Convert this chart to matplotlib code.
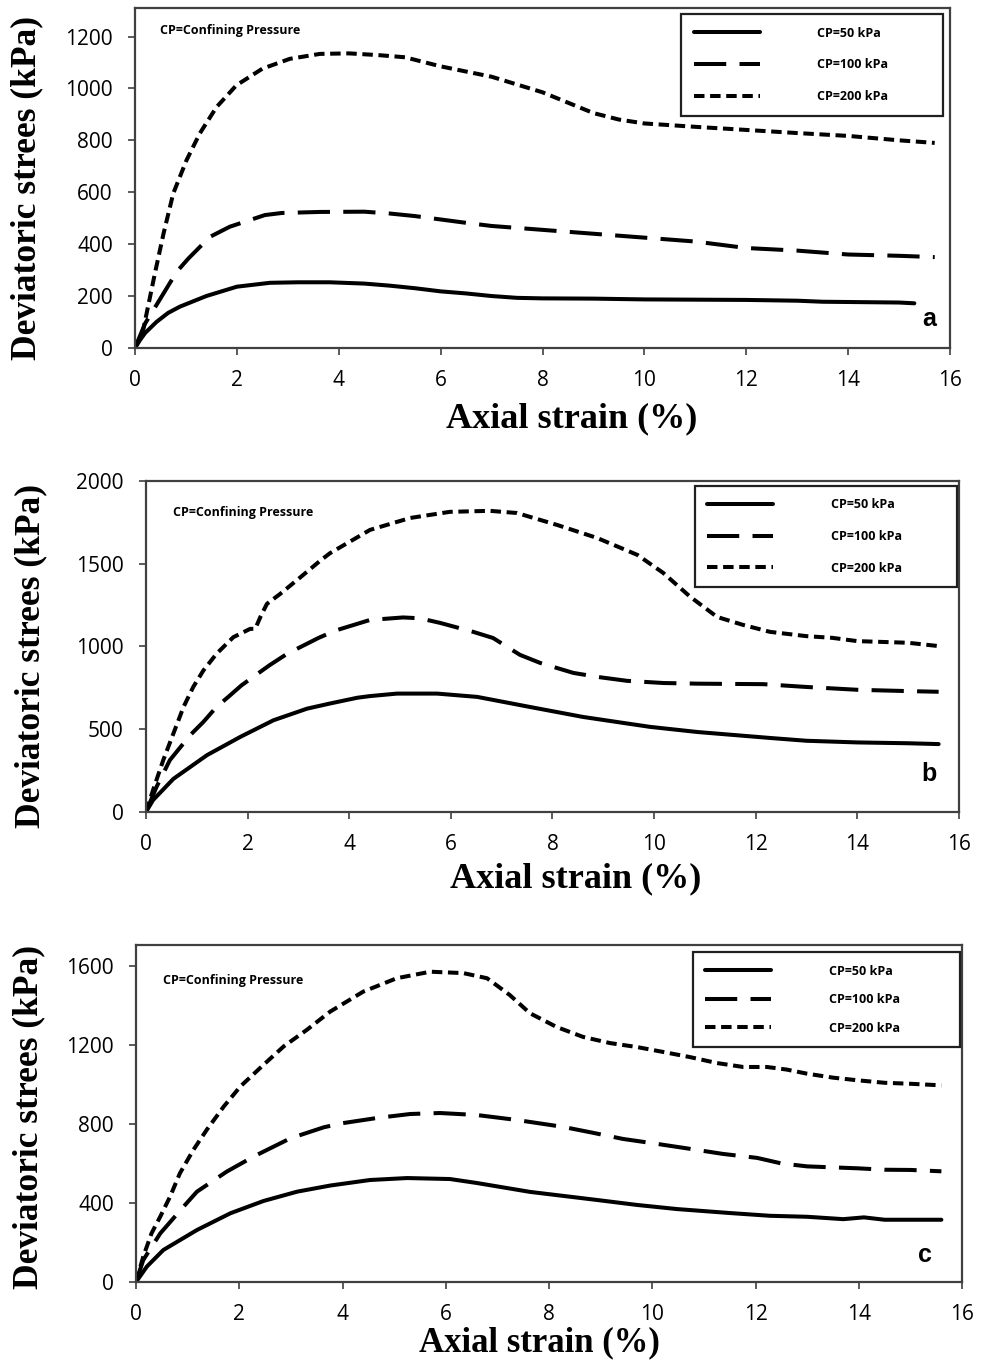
import numpy as np
import matplotlib
matplotlib.use("Agg")
import matplotlib.pyplot as plt

# ----------------------------------------------------------------------
# Data (axial strain %, deviatoric stress kPa)
# ----------------------------------------------------------------------

# panel a
a50_x = [0, 0.1, 0.2, 0.42, 0.65, 0.88, 1.4, 2.0, 2.65, 3.2, 3.82, 4.5, 5, 5.5, 6, 6.5, 7, 7.5, 8, 9, 10, 11, 12, 13, 13.5, 14, 15, 15.3]
a50_y = [0, 31, 58, 100, 135, 159, 200, 236, 251, 253, 253, 248, 240, 230, 218, 210, 200, 193, 191, 190, 187, 186, 185, 182, 178, 177, 175, 172]

a100_x = [0, 0.2, 0.46, 0.82, 1.05, 1.47, 1.86, 2.55, 2.88, 3.63, 4.5, 5, 5.5, 6, 6.5, 7, 8, 9, 10, 11, 12, 13, 14, 15, 15.7]
a100_y = [0, 95, 178, 294, 345, 428, 467, 512, 520, 524, 525, 518, 508, 495, 482, 470, 455, 440, 425, 410, 385, 375, 360, 355, 350]

a200_x = [0, 0.16, 0.39, 0.56, 0.75, 1.01, 1.27, 1.6, 1.99, 2.5, 3.04, 3.63, 4.2, 4.8, 5.3, 6, 6.5, 7, 7.5, 8, 8.5, 9, 9.5, 10, 11, 12, 13, 14, 15, 15.7]
a200_y = [0, 69, 287, 441, 595, 723, 826, 928, 1012, 1076, 1114, 1133, 1135, 1128, 1120, 1085, 1065, 1045, 1015, 985, 945, 905, 880, 865, 852, 840, 828, 817, 800, 790]

# panel b
b50_x = [0, 0.14, 0.54, 1.2, 1.86, 2.51, 3.17, 3.62, 4.16, 4.41, 4.94, 5.73, 6.52, 7.56, 8.6, 9.39, 9.92, 10.85, 12.28, 13, 14, 15, 15.6]
b50_y = [0, 72, 200, 343, 454, 554, 624, 655, 690, 700, 715, 715, 695, 634, 574, 538, 514, 483, 447, 430, 420, 415, 410]

b100_x = [0, 0.21, 0.47, 0.87, 1.13, 1.39, 1.62, 1.88, 2.43, 2.78, 3.4, 3.73, 4.41, 5.06, 5.39, 5.79, 6.44, 6.83, 7.36, 7.76, 8.41, 8.88, 9.47, 10.18, 10.85, 12.15, 13, 14, 15, 15.6]
b100_y = [0, 153, 313, 464, 544, 635, 695, 765, 886, 956, 1052, 1096, 1160, 1175, 1170, 1142, 1088, 1051, 949, 900, 840, 816, 792, 779, 775, 772, 755, 738, 730, 726]

b200_x = [0, 0.14, 0.34, 0.54, 0.74, 0.93, 1.13, 1.39, 1.72, 2.05, 2.15, 2.25, 2.38, 2.64, 3.04, 3.43, 3.62, 4.41, 5.2, 5.98, 6.77, 7.3, 8.09, 8.88, 9.67, 10.18, 10.71, 11.24, 11.75, 12.28, 13, 13.5, 14, 15, 15.6]
b200_y = [0, 133, 313, 474, 635, 755, 855, 956, 1056, 1106, 1106, 1177, 1257, 1317, 1418, 1518, 1563, 1704, 1776, 1813, 1819, 1806, 1734, 1655, 1553, 1444, 1300, 1178, 1130, 1088, 1062, 1052, 1032, 1022, 1002]

# panel c
c50_x = [0, 0.21, 0.53, 1.18, 1.83, 2.47, 3.12, 3.76, 4.09, 4.53, 5.25, 6.08, 6.6, 7.63, 8.93, 9.7, 10.48, 11.5, 12.28, 13, 13.7, 14.1, 14.5, 15.6]
c50_y = [0, 78, 162, 263, 348, 410, 457, 488, 500, 516, 526, 521, 501, 456, 415, 390, 369, 349, 335, 330, 318, 327, 315, 315]

c100_x = [0, 0.14, 0.47, 0.92, 1.18, 1.76, 2.28, 2.99, 3.64, 4.01, 4.67, 5.31, 5.89, 6.6, 7.37, 8.27, 8.85, 9.43, 9.96, 10.6, 11.37, 12.03, 12.5, 13, 13.5, 14, 14.5, 15, 15.6]
c100_y = [0, 111, 246, 381, 457, 559, 635, 727, 783, 804, 830, 850, 855, 845, 820, 785, 755, 724, 704, 679, 648, 628, 600, 585, 580, 575, 568, 567, 560]

c200_x = [0, 0.14, 0.3, 0.47, 0.66, 0.85, 1.11, 1.37, 1.7, 2.02, 2.47, 2.86, 3.31, 3.76, 4.4, 5.05, 5.7, 6.34, 6.8, 7.24, 7.63, 8.15, 8.66, 9.18, 9.7, 10.21, 10.73, 11.25, 11.76, 12.22, 12.6, 13, 13.5, 14, 14.5, 15, 15.6]
c200_y = [0, 128, 246, 331, 432, 550, 668, 770, 888, 989, 1099, 1192, 1276, 1368, 1469, 1537, 1570, 1563, 1537, 1452, 1360, 1290, 1240, 1209, 1189, 1164, 1138, 1108, 1088, 1088, 1075, 1054, 1034, 1020, 1008, 1003, 995]

labels = ["CP=50 kPa", "CP=100 kPa", "CP=200 kPa"]
panel_letters = ["a", "b", "c"]
y_ticks = [np.arange(0, 1201, 200), np.arange(0, 2001, 500), np.arange(0, 1601, 400)]
y_limits = [(0, 1310), (0, 2000), (0, 1705)]
x_ticks = np.arange(0, 17, 2)

panels = [
    [(a50_x, a50_y), (a100_x, a100_y), (a200_x, a200_y)],
    [(b50_x, b50_y), (b100_x, b100_y), (b200_x, b200_y)],
    [(c50_x, c50_y), (c100_x, c100_y), (c200_x, c200_y)],
]

# ----------------------------------------------------------------------
# Layout (figure fractions) and styling
# ----------------------------------------------------------------------

axes_rects = [
    [0.1368, 0.7464, 0.8257, 0.2478],
    [0.1479, 0.4082, 0.8237, 0.2413],
    [0.1378, 0.0656, 0.8369, 0.2456],
]
legend_boxes = [
    (0.670, 0.685, 0.321, 0.297),
    (0.675, 0.680, 0.322, 0.305),
    (0.674, 0.718, 0.323, 0.261),
]
legend_spacing = [1.5, 1.5, 1.25]
note_pos = [(0.031, 0.935), (0.033, 0.905), (0.033, 0.895)]
letter_pos = [(0.975, 0.085), (0.963, 0.115), (0.955, 0.08)]
xlabel_pos = [(0.536, -0.159), (0.528, -0.151), (0.489, -0.132)]
xlabel_size = [26, 26, 25]
ylabel_pos = [(-0.112, 0.47), (-0.121, 0.47), (-0.110, 0.49)]

line_styles = [
    dict(linestyle="-"),
    dict(dashes=(8, 3.3)),
    dict(dashes=(2.6, 1.4)),
]

sans = ["Open Sans", "DejaVu Sans"]
serif = ["Liberation Serif", "DejaVu Serif"]

fig = plt.figure(figsize=(9.87, 13.72), dpi=100)

for p in range(3):
    ax = fig.add_axes(axes_rects[p])

    lines = []
    for (xs, ys), style in zip(panels[p], line_styles):
        (ln,) = ax.plot(xs, ys, color="black", linewidth=2.9,
                        solid_capstyle="round", solid_joinstyle="round",
                        dash_capstyle="butt", dash_joinstyle="round", **style)
        lines.append(ln)

    ax.set_xlim(0, 16)
    ax.set_ylim(*y_limits[p])
    ax.set_xticks(x_ticks)
    ax.set_yticks(y_ticks[p])

    for lab in ax.get_xticklabels() + ax.get_yticklabels():
        lab.set_fontfamily(sans)
        lab.set_fontsize(15)

    ax.tick_params(direction="out", length=5, width=1.2, pad=11,
                   color="#404040")

    for s in ax.spines.values():
        s.set_color("#404040")
        s.set_linewidth(1.6)

    ax.set_xlabel("Axial strain (%)", fontsize=xlabel_size[p], fontweight="bold",
                  family=serif)
    ax.xaxis.set_label_coords(*xlabel_pos[p])
    ax.set_ylabel("Deviatoric strees (kPa)", fontsize=25.5, fontweight="bold",
                  family=serif)
    ax.yaxis.set_label_coords(*ylabel_pos[p])

    leg = ax.legend(
        lines,
        labels,
        loc="upper left",
        bbox_to_anchor=legend_boxes[p],
        mode="expand",
        borderaxespad=0,
        prop=dict(family=sans, size=9, weight="bold"),
        handlelength=5.3,
        handletextpad=4.6,
        labelspacing=legend_spacing[p],
        borderpad=1.0,
        fancybox=False,
        framealpha=1,
    )
    leg.get_frame().set_edgecolor("#202020")
    leg.get_frame().set_linewidth(1.6)

    ax.text(*note_pos[p], "CP=Confining Pressure", transform=ax.transAxes,
            fontsize=9, fontweight="bold", family=sans, ha="left", va="center")
    ax.text(*letter_pos[p], panel_letters[p], transform=ax.transAxes,
            fontsize=18, fontweight="bold", family=["Liberation Sans", "DejaVu Sans"],
            ha="center", va="center")

fig.savefig("out.png", dpi=100)
